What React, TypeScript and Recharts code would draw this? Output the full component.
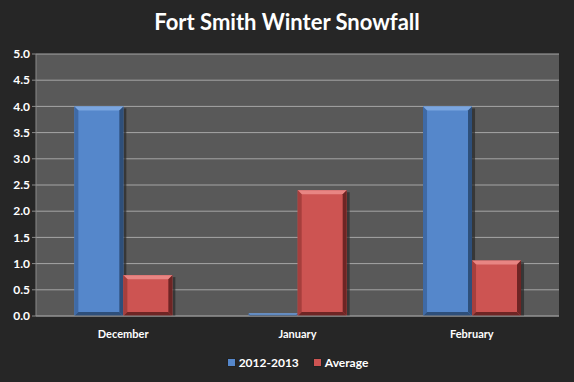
import * as React from "react";
import { BarChart, Bar, XAxis, YAxis, CartesianGrid, Legend } from "recharts";

const MONTHS = ["December", "January", "February"];
const SEASON_2012 = [4.0, 0.05, 4.0];
const AVERAGE = [0.78, 2.4, 1.06];
const Y_TICKS = [0, 0.5, 1, 1.5, 2, 2.5, 3, 3.5, 4, 4.5, 5];

const BLUE = "#5587CB";
const RED = "#CD5452";

const data = MONTHS.map((month, i) => ({
  month,
  season: SEASON_2012[i],
  average: AVERAGE[i],
}));

const shades: Record<string, { light: string; dark: string; side: string }> = {
  [BLUE]: { light: "#7BA6E0", dark: "#2E4F7A", side: "#3F6AA6" },
  [RED]: { light: "#E88583", dark: "#6E2524", side: "#A63F3D" },
};

function BevelBar(props: any) {
  const { x, y, width, height, fill } = props;
  if (!height || height <= 0) return null;
  const s = shades[fill];
  const b = Math.min(4, height / 2, width / 2);
  return (
    <g>
      <rect x={x + width} y={y + 2} width={3} height={height - 2} fill="#2a2a2a" opacity={0.7} />
      <rect x={x} y={y} width={width} height={height} fill={fill} />
      <polygon
        points={`${x},${y} ${x + width},${y} ${x + width - b},${y + b} ${x + b},${y + b}`}
        fill={s.light}
      />
      <polygon
        points={`${x + width},${y} ${x + width},${y + height} ${x + width - b},${y + height - b} ${x + width - b},${y + b}`}
        fill={s.dark}
      />
      <polygon
        points={`${x},${y} ${x + b},${y + b} ${x + b},${y + height - b} ${x},${y + height}`}
        fill={s.side}
      />
      <polygon
        points={`${x},${y + height} ${x + b},${y + height - b} ${x + width - b},${y + height - b} ${x + width},${y + height}`}
        fill={s.dark}
      />
    </g>
  );
}

function LegendContent() {
  const items = [
    { label: "2012-2013", color: BLUE },
    { label: "Average", color: RED },
  ];
  return (
    <div style={{ display: "flex", justifyContent: "center", gap: 14, paddingLeft: 36, paddingTop: 9 }}>
      {items.map((it) => (
        <span key={it.label} style={{ display: "flex", alignItems: "center", gap: 3 }}>
          <span style={{ width: 7, height: 7, background: it.color, border: "1px solid #222" }} />
          <span style={{ color: "#fff", fontWeight: 700, fontSize: 12 }}>{it.label}</span>
        </span>
      ))}
    </div>
  );
}

export default function App() {
  return (
    <div
      style={{
        position: "absolute",
        top: 0,
        left: 0,
        width: 574,
        height: 382,
        background: "#262626",
        fontFamily: "Lato, 'Open Sans', sans-serif",
      }}
    >
      <div
        style={{
          position: "absolute",
          top: 8,
          width: 574,
          textAlign: "center",
          color: "#fff",
          fontWeight: 700,
          fontSize: 22,
        }}
      >
        Fort Smith Winter Snowfall
      </div>
      <BarChart
        width={574}
        height={382}
        data={data}
        margin={{ top: 54, right: 15, left: 0, bottom: 8 }}
        barCategoryGap="22%"
        barGap={0}
      >
        <CartesianGrid horizontal vertical={false} stroke="#A6A6A6" fill="#595959" fillOpacity={1} />
        <XAxis
          dataKey="month"
          height={30}
          stroke="#8a8a8a"
          tickLine={false}
          tick={{ fill: "#fff", fontSize: 11, fontWeight: 700 }}
          tickMargin={8}
        />
        <YAxis
          width={36}
          domain={[0, 5]}
          ticks={Y_TICKS}
          interval={0}
          stroke="#8a8a8a"
          tickSize={4}
          tickFormatter={(v: number) => v.toFixed(1)}
          tick={{ fill: "#fff", fontSize: 12, fontWeight: 700 }}
          tickMargin={2}
        />
        <Legend verticalAlign="bottom" height={28} content={<LegendContent />} />
        <Bar dataKey="season" name="2012-2013" fill={BLUE} shape={<BevelBar />} isAnimationActive={false} />
        <Bar dataKey="average" name="Average" fill={RED} shape={<BevelBar />} isAnimationActive={false} />
      </BarChart>
    </div>
  );
}
